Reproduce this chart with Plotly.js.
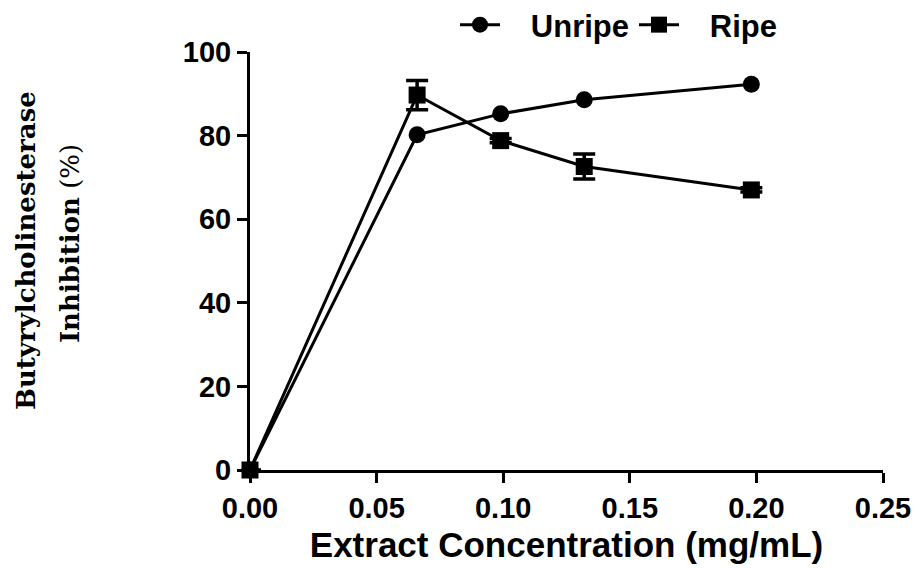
<!DOCTYPE html>
<html><head><meta charset="utf-8">
<script src="https://cdn.plot.ly/plotly-3.0.1.min.js"></script>
<style>body{margin:0;background:#fff}#chart{width:919px;height:568px}</style>
</head><body><div id="chart"></div>
<script>
const concentration = [0, 0.066, 0.099, 0.132, 0.198];
const unripe = [0, 80.2, 85.2, 88.6, 92.3];
const unripeErr = [0, 0.5, 0.5, 0.5, 0.5];
const ripe = [0, 89.7, 78.8, 72.6, 67.0];
const ripeErr = [0, 3.5, 0.5, 3.0, 0.5];
const seriesNames = ['Unripe', 'Ripe'];
const xTicks = [0, 0.05, 0.10, 0.15, 0.20, 0.25];
const yTicks = [0, 20, 40, 60, 80, 100];

const sans = 'Liberation Sans, Arial, sans-serif';
const tickFont = {family: sans, size: 29, color: '#000', weight: 'bold'};
const pad = '\u00a0\u00a0\u00a0';

const traces = [
  {x: concentration, y: unripe, name: pad + seriesNames[0], mode: 'lines+markers', type: 'scatter',
   line: {color: '#000', width: 3}, marker: {symbol: 'circle', size: 17, color: '#000'},
   error_y: {type: 'data', array: unripeErr, visible: true, color: '#000', thickness: 3, width: 0},
   cliponaxis: false},
  {x: concentration, y: ripe, name: pad + seriesNames[1], mode: 'lines+markers', type: 'scatter',
   line: {color: '#000', width: 3}, marker: {symbol: 'square', size: 17, color: '#000'},
   error_y: {type: 'data', array: ripeErr, visible: true, color: '#000', thickness: 3.5, width: 11},
   cliponaxis: false}
];

const layout = {
  width: 919, height: 568,
  margin: {l: 250, r: 36, t: 50, b: 98},
  paper_bgcolor: '#fff', plot_bgcolor: '#fff',
  showlegend: true,
  legend: {orientation: 'h', xref: 'container', yref: 'container',
    x: 455 / 919, xanchor: 'left', y: 1 - 25 / 568, yanchor: 'middle',
    font: {family: sans, size: 31, color: '#000', weight: 'bold'},
    itemwidth: 40, tracegroupgap: 0, bgcolor: 'rgba(0,0,0,0)'},
  xaxis: {range: [0, 0.25], tickvals: xTicks, ticktext: xTicks.map(v => v.toFixed(2)),
    showgrid: false, zeroline: false, showline: true, linecolor: '#000', linewidth: 3,
    ticks: 'outside', ticklen: 10, tickwidth: 3, tickcolor: '#000', tickfont: tickFont,
    automargin: false,
    title: {text: 'Extract Concentration (mg/mL)', standoff: 10,
      font: {family: sans, size: 35, color: '#000', weight: 'bold'}}},
  yaxis: {range: [0, 100], tickvals: yTicks, automargin: false,
    showgrid: false, zeroline: false, showline: true, linecolor: '#000', linewidth: 3,
    ticks: 'outside', ticklen: 10, tickwidth: 3, tickcolor: '#000', tickfont: tickFont},
  annotations: [
    {text: 'Butyrylcholinesterase', textangle: -90,
     xref: 'paper', yref: 'paper', x: -(250 - 26) / 633, y: (470 - 250) / 420,
     xanchor: 'center', yanchor: 'middle', showarrow: false,
     font: {family: 'DejaVu Serif, serif', size: 26, color: '#000', weight: 'bold'}},
    {text: '<b>Inhibition</b> (%)', textangle: -90,
     xref: 'paper', yref: 'paper', x: -(250 - 70) / 633, y: (470 - 243) / 420,
     xanchor: 'center', yanchor: 'middle', showarrow: false,
     font: {family: 'DejaVu Serif, serif', size: 26, color: '#000'}}
  ]
};
Plotly.newPlot('chart', traces, layout, {displayModeBar: false});
</script></body></html>
